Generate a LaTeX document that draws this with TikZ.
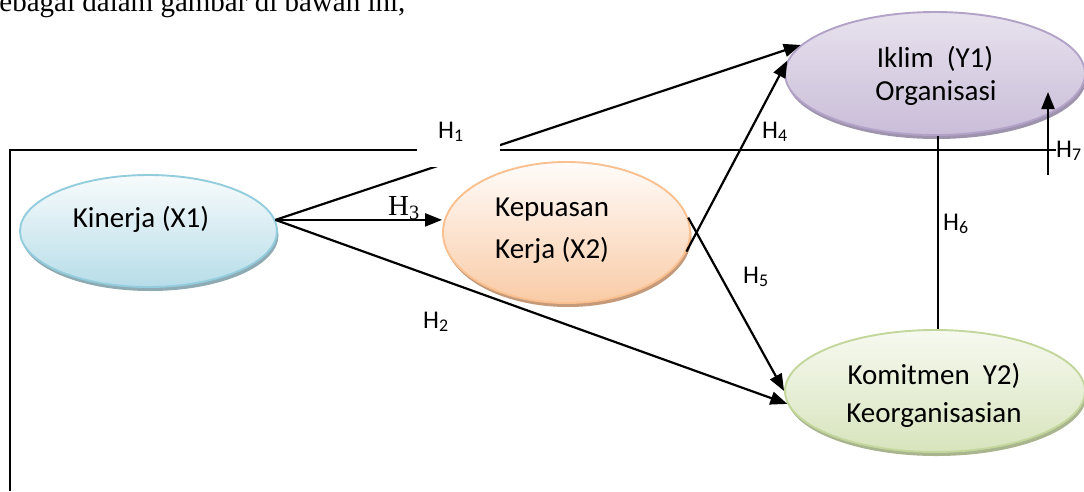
\documentclass[tikz,border=0pt]{standalone}
\usepackage{fontspec}
\setmainfont{Carlito}
\newfontfamily\seriffont{Liberation Serif}
\usetikzlibrary{arrows.meta,shapes.geometric,shadows}
\definecolor{kinB}{HTML}{93CDDD}
\definecolor{kinT}{HTML}{F7FBFC}
\definecolor{kinF}{HTML}{B7DDE8}
\definecolor{kinS}{HTML}{8EAAB3}
\definecolor{kepB}{HTML}{FAC08F}
\definecolor{kepT}{HTML}{FFFCFA}
\definecolor{kepF}{HTML}{F9CBA6}
\definecolor{kepS}{HTML}{C49A7A}
\definecolor{ikB}{HTML}{B3A2C7}
\definecolor{ikT}{HTML}{E8E2EE}
\definecolor{ikF}{HTML}{C9BDD8}
\definecolor{ikS}{HTML}{9E93AD}
\definecolor{komB}{HTML}{C3D69B}
\definecolor{komT}{HTML}{F6F9EF}
\definecolor{komF}{HTML}{D7E4BD}
\definecolor{komS}{HTML}{A8B58F}
\begin{document}
\begin{tikzpicture}[x=1pt,y=-1pt,
  ell/.style={ellipse, line width=1.9pt, inner sep=0pt},
  conn/.style={line width=2.2pt, draw=black},
  frame/.style={line width=1.8pt, draw=black},
  arr/.style={conn, -{Triangle[length=17pt,width=13pt]}},
  txt/.style={font=\fontsize{29}{34}\selectfont, inner sep=0pt, anchor=base},
  hl/.style={font=\fontsize{25.5}{30}\selectfont, inner sep=0pt, anchor=base west},
  hs/.style={font=\seriffont\fontsize{29}{34}\selectfont, inner sep=0pt, anchor=base west}]
\useasboundingbox (0,0) rectangle (1084,491);
\node[anchor=base west, inner sep=0pt, font=\seriffont\fontsize{29}{34}\selectfont] (top) at (-12,11) {sebagai dalam gambar di bawah ini,};

% ellipses
\node[ell, draw=kinB, top color=kinT, bottom color=kinF, minimum width=257pt, minimum height=112pt,
  drop shadow={shadow xshift=1.5pt, shadow yshift=-4pt, fill=kinS, opacity=1}] (k) at (148.5,231) {};
\node[ell, draw=kepB, top color=kepT, bottom color=kepF, minimum width=247pt, minimum height=141pt,
  drop shadow={shadow xshift=1.5pt, shadow yshift=-4pt, fill=kepS, opacity=1}] (kp) at (566.5,232.5) {};
\node[ell, draw=ikB, top color=ikT, bottom color=ikF, minimum width=300pt, minimum height=123pt,
  drop shadow={shadow xshift=1.5pt, shadow yshift=-4pt, fill=ikS, opacity=1}] (ik) at (935,73.5) {};
\node[ell, draw=komB, top color=komT, bottom color=komF, minimum width=300pt, minimum height=122pt,
  drop shadow={shadow xshift=1.5pt, shadow yshift=-4pt, fill=komS, opacity=1}] (km) at (935,391) {};

% texts
\node[txt] (kt) at (141,227) {Kinerja (X1)};
\node[txt, anchor=base west] (kpt1) at (495,216) {Kepuasan};
\node[txt, anchor=base west] (kpt2) at (495,258) {Kerja (X2)};
\node[txt] (ikt1) at (935,67) {Iklim\ \ (Y1)};
\node[txt] (ikt2) at (936,100) {Organisasi};
\node[txt] (kmt1) at (934,384) {Komitmen\ \ Y2)};
\node[txt] (kmt2) at (934,422) {Keorganisasian};

% frame line
\coordinate (fa) at (10,491);
\coordinate (fb) at (10,150);
\coordinate (fc) at (1056,150);
\draw[frame] (fa) -- (fb) -- (fc);

% connectors
\draw[arr] (k.5) -- (ik.168);
\draw[arr] (k.5) -- (k.5 -| kp.west);
\draw[arr] (k.5) -- (km.185);
\draw[arr] (kp.-9) -- (ik.175);
\draw[arr] (kp.7) -- (km.west);
\draw[frame] ([xshift=3pt]ik.south) -- ([xshift=3pt]km.north);
\coordinate (h7s) at (1048,175);
\coordinate (h7e) at (1048,92);
\draw[arr] (h7s) -- (h7e);

% mask behind H1
\fill[white] (417,112) rectangle (500,167);

% labels
\node[hl] (h1) at (438,138) {H\textsubscript{1}};
\node[hs] (h3) at (388,215) {H\textsubscript{3}};
\node[hl] (h2) at (423,328) {H\textsubscript{2}};
\node[hl] (h4) at (762,138) {H\textsubscript{4}};
\node[hl] (h5) at (743,283) {H\textsubscript{5}};
\node[hl] (h6) at (943,230) {H\textsubscript{6}};
\node[hl] (h7) at (1056,157) {H\textsubscript{7}};
\end{tikzpicture}
\end{document}
